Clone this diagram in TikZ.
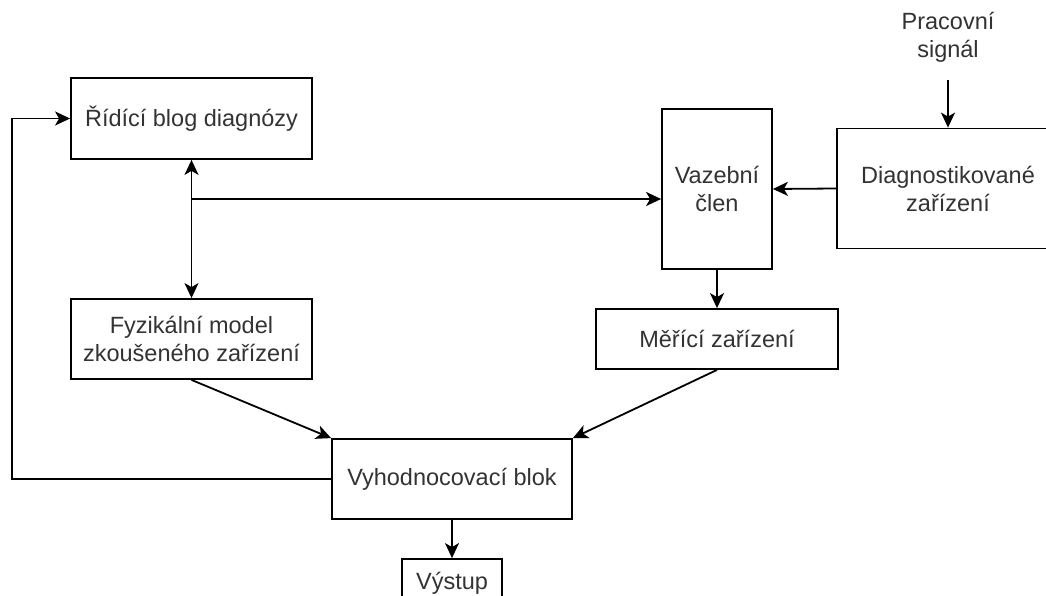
\documentclass[tikz,border=0pt]{standalone}
\usepackage{fontspec}
\setmainfont{Liberation Sans}
\usetikzlibrary{arrows.meta}
\definecolor{txt}{HTML}{333333}
\tikzset{
  x=1pt, y=-1pt,
  box/.style={draw=black, line width=1.8pt, fill=white, inner sep=0pt,
    text=txt, align=center, font=\fontsize{23.5}{28}\selectfont},
  label/.style={text=txt, align=center, inner sep=0pt, font=\fontsize{23.5}{28}\selectfont},
  tip/.style={Stealth[length=15pt,width=14pt,inset=4pt]},
  conn/.style={line width=1.8pt, -{Stealth[length=15pt,width=14pt,inset=4pt]}},
  biconn/.style={line width=1.8pt, {Stealth[length=15pt,width=14pt,inset=4pt]}-{Stealth[length=15pt,width=14pt,inset=4pt]}},
}
\begin{document}
\begin{tikzpicture}
\clip (0,0) rectangle (1046,596);
\fill[white] (0,0) rectangle (1046,596);

% blocks
\node[box, minimum width=241pt, minimum height=81pt] (rid) at (191.5,118.5) {Řídící blog diagnózy};
\node[box, minimum width=110pt, minimum height=160pt] (vaz) at (717,189) {Vazební\\člen};
\node[box, minimum width=222pt, minimum height=120pt] (diag) at (948,188.5) {Diagnostikované\\zařízení};
\node[label] (prac) at (948,37) {Pracovní\\signál};
\node[box, minimum width=241pt, minimum height=80pt] (fyz) at (191.5,339) {Fyzikální model\\zkoušeného zařízení};
\node[box, minimum width=242pt, minimum height=60pt] (mer) at (717,339) {Měřící zařízení};
\node[box, minimum width=240pt, minimum height=80pt] (vyh) at (452,479) {Vyhodnocovací blok};
\node[box, minimum width=100pt, minimum height=48pt] (vys) at (452,583) {Výstup};

% junction on the link between control block and physical model
\coordinate (jn) at (rid.south |- 0,199);
\coordinate (fb) at (12,0);

% connectors
\draw[conn] (prac.south |- 0,80) -- (diag.north);
\draw[conn] (diag.west) -- (vaz.east);
\draw[conn] (vaz.south) -- (mer.north);
\draw[biconn] (rid.south) -- (fyz.north);
\draw[conn] (jn) -- (jn -| vaz.west);
\draw[conn] (fyz.south) -- (vyh.north west);
\draw[conn] (mer.south) -- (vyh.north east);
\draw[conn] (vyh.south) -- (vys.north);
\draw[conn] (vyh.west) -- (vyh.west -| fb) |- (rid.west);
\end{tikzpicture}
\end{document}
